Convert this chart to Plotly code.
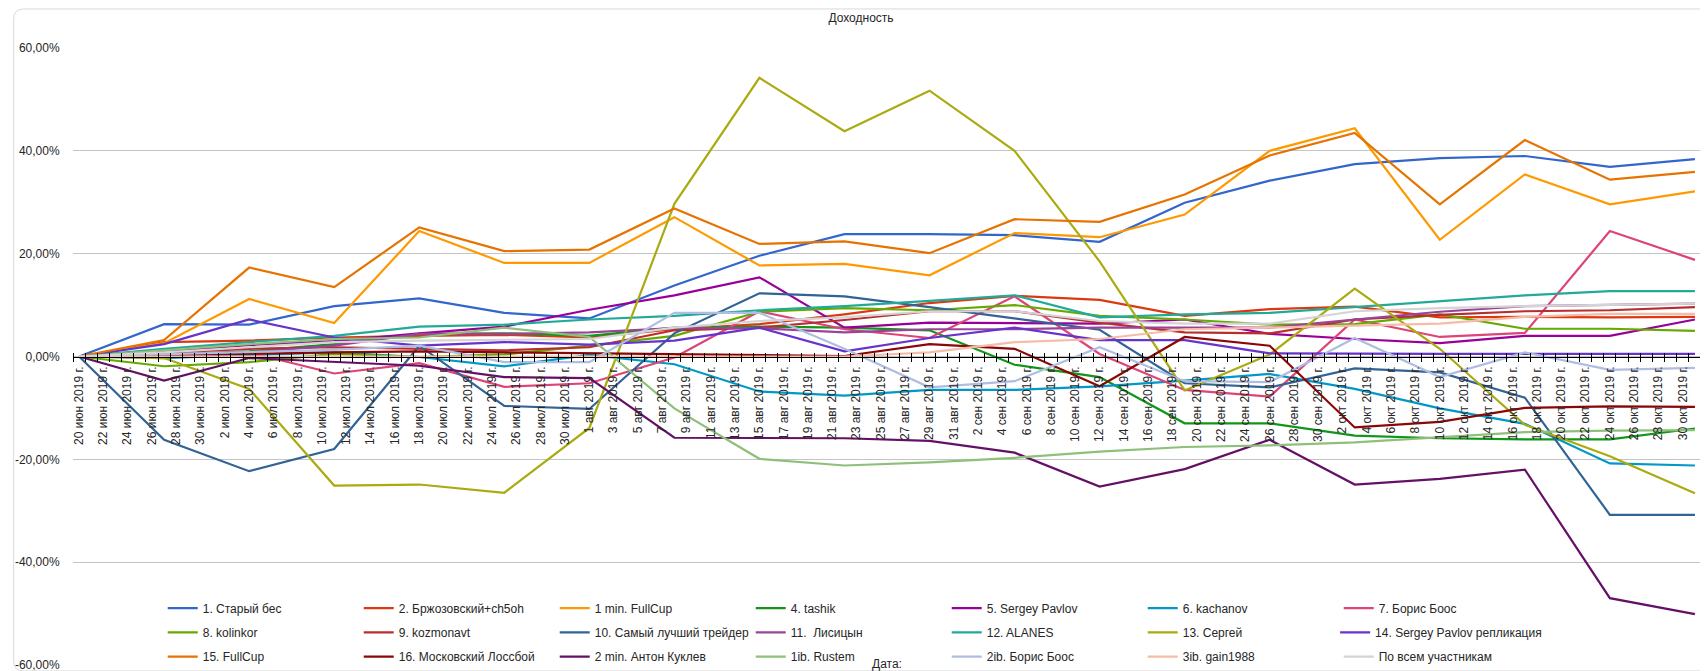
import plotly.graph_objects as go
from datetime import datetime, timedelta

# ---------------- data ----------------
dates = ["2019-06-20", "2019-06-27", "2019-07-04", "2019-07-11", "2019-07-18",
         "2019-07-25", "2019-08-01", "2019-08-08", "2019-08-15", "2019-08-22",
         "2019-08-29", "2019-09-05", "2019-09-12", "2019-09-19", "2019-09-26",
         "2019-10-03", "2019-10-10", "2019-10-17", "2019-10-24", "2019-10-31"]

series_names = ["1. Старый бес", "2. Бржозовский+ch5oh", "1 min. FullCup", "4. tashik",
                "5. Sergey Pavlov", "6. kachanov", "7. Борис Боос",
                "8. kolinkor", "9. kozmonavt", "10. Самый лучший трейдер", "11.\u00a0 Лисицын",
                "12. ALANES", "13. Сергей", "14. Sergey Pavlov репликация",
                "15. FullCup", "16. Московский Лоссбой", "2 min. Антон Куклев", "1ib. Rustem",
                "2ib. Борис Боос", "3ib. gain1988", "По всем участникам"]

series_colors = ["#3366cc", "#dc3912", "#ff9900", "#109618", "#990099", "#0099c6", "#dd4477",
                 "#66aa00", "#b82e2e", "#316395", "#994499", "#22aa99", "#aaaa11", "#6633cc",
                 "#e67300", "#8b0707", "#651067", "#8fc07a", "#b0bde2", "#f5bca8", "#d4d4d4"]

# values in percent
staryi_bes = [0, 6.3, 6.2, 9.8, 11.3, 8.5, 7.4, 13.8, 19.6, 23.8, 23.8, 23.6, 22.3, 29.9, 34.2, 37.4, 38.6, 39.0, 36.9, 38.4]
brzhozovsky = [0, 2.8, 3.1, 3.7, 4.0, 4.2, 3.7, 5.3, 6.3, 8.2, 10.4, 11.8, 11.0, 7.9, 9.2, 9.7, 7.6, 7.7, 7.6, 7.7]
min1_fullcup = [0, 2.6, 11.2, 6.5, 24.4, 18.2, 18.2, 27.1, 17.7, 18.0, 15.8, 24.0, 23.2, 27.6, 40.0, 44.4, 22.7, 35.4, 29.6, 32.1]
tashik = [0, 0.3, 1.0, 2.4, 4.4, 4.5, 4.0, 5.6, 5.8, 5.6, 5.1, -1.6, -4.0, -13.0, -13.0, -15.4, -15.9, -16.1, -16.1, -14.0]
sergey_pavlov = [0, 1.0, 2.2, 3.0, 4.5, 5.8, 9.1, 11.9, 15.4, 5.6, 6.6, 6.5, 6.4, 7.2, 4.4, 3.4, 2.6, 4.0, 4.0, 7.2]
kachanov = [0, -0.3, 0.3, 0.8, -0.1, -1.9, 0.3, -1.5, -6.8, -7.6, -6.5, -6.5, -5.8, -4.7, -3.4, -6.3, -10.1, -13.1, -20.8, -21.2]
boris_boos = [0, 0.5, 0.8, -3.3, -1.3, -5.9, -5.2, -0.2, 8.8, 5.3, 3.6, 11.7, 0.5, -6.5, -7.8, 7.2, 3.8, 4.6, 24.4, 18.8]
kolinkor = [0, -1.9, -1.1, 0.5, -0.1, 0.4, 2.1, 4.0, 8.7, 9.4, 9.0, 10.0, 7.9, 7.2, 6.2, 6.3, 8.2, 5.4, 5.4, 5.0]
kozmonavt = [0, 0.8, 1.5, 1.8, 1.5, 1.2, 1.8, 5.1, 5.6, 7.1, 8.8, 8.8, 6.6, 4.7, 4.5, 7.2, 8.1, 8.8, 9.0, 9.6]
best_trader = [0, -16.2, -22.3, -18.0, 2.1, -9.6, -10.2, 4.5, 12.3, 11.7, 9.6, 7.4, 5.2, -5.2, -6.0, -2.3, -3.1, -8.0, -30.8, -30.8]
lisitsyn = [0, 0.4, 0.8, 2.1, 4.4, 4.4, 4.7, 5.5, 5.5, 4.7, 5.3, 5.3, 5.6, 5.6, 5.6, 7.2, 8.7, 9.8, 10.0, 10.3]
alanes = [0, 1.5, 2.8, 4.0, 5.8, 6.2, 7.2, 7.9, 9.0, 9.8, 10.8, 11.9, 7.6, 8.2, 8.5, 9.6, 10.8, 11.9, 12.7, 12.7]
sergei = [0, -0.3, -6.3, -25.1, -24.9, -26.5, -13.9, 29.7, 54.2, 43.8, 51.7, 40.0, 18.5, -6.6, 0.4, 13.2, 1.5, -13.3, -19.4, -26.6]
pavlov_repl = [0, 2.4, 7.2, 3.7, 2.1, 2.8, 2.3, 3.1, 5.6, 1.0, 3.6, 5.6, 3.2, 3.2, 0.6, 0.5, 0.5, 0.5, 0.5, 0.5]
fullcup15 = [0, 3.2, 17.3, 13.5, 25.1, 20.5, 20.8, 28.8, 21.9, 22.4, 20.1, 26.7, 26.2, 31.5, 39.1, 43.5, 29.6, 42.1, 34.4, 35.9]
moscow_lossboy = [0, 0.3, 0.5, 0.8, 1.0, 0.8, 0.6, 0.5, 0.3, 0.1, 2.4, 1.5, -5.8, 3.8, 2.1, -13.8, -12.7, -10.0, -9.7, -9.8]
kuklev = [0, -4.7, -0.3, -1.1, -1.8, -4.0, -4.2, -15.8, -15.9, -15.9, -16.4, -18.7, -25.3, -21.9, -16.2, -24.9, -23.8, -22.0, -47.0, -50.1]
rustem = [0, 1.2, 2.4, 3.4, 3.7, 5.6, 3.8, -10.1, -19.9, -21.2, -20.6, -19.7, -18.5, -17.6, -17.3, -16.7, -15.7, -14.7, -14.4, -14.3]
boris_boos_2ib = [0, 0.4, 0.8, 1.3, 2.1, -1.1, -1.1, 8.5, 8.5, 1.5, -6.0, -4.8, 1.8, -4.8, -5.0, 3.6, -4.0, 0.8, -2.6, -2.2]
gain1988 = [0, 0, 0, 0, 0, 0, 0, 0, 0, 0, 0.8, 2.8, 3.4, 5.3, 5.6, 6.0, 6.4, 7.7, 8.3, 8.3]
all_participants = [0, 0.8, 1.8, 2.8, 3.1, 3.2, 3.4, 5.6, 6.9, 7.6, 8.8, 8.8, 6.9, 6.4, 6.4, 8.8, 9.4, 9.8, 10.0, 10.3]

series_values = [staryi_bes, brzhozovsky, min1_fullcup, tashik, sergey_pavlov, kachanov, boris_boos,
                 kolinkor, kozmonavt, best_trader, lisitsyn, alanes, sergei, pavlov_repl,
                 fullcup15, moscow_lossboy, kuklev, rustem, boris_boos_2ib, gain1988, all_participants]

y_tick_vals = [-60, -40, -20, 0, 20, 40, 60]
y_tick_text = ["-60,00%", "-40,00%", "-20,00%", "0,00%", "20,00%", "40,00%", "60,00%"]
month_abbr = {6: "июн", 7: "июл", 8: "авг", 9: "сен", 10: "окт", 11: "ноя"}

# ---------------- layout geometry ----------------
W, H = 1708, 671
ML, MR, MT, MB = 60, 15, 40, 7
PW, PH = W - ML - MR, H - MT - MB

def px_x(px):
    return (px - ML) / PW

def px_y(py):
    return (H - MB - py) / PH

# x axis: ticks at half-day boundaries, labels for every second date
first = datetime(2019, 6, 20)
x_start = first - timedelta(hours=12)
x_end = datetime(2019, 10, 31) + timedelta(hours=12)
tickvals, ticktext, minorvals = [], [], []
k = 0
t = x_start
while t <= x_end:
    tickvals.append(t.strftime("%Y-%m-%d %H:%M:%S"))
    minorvals.append((t + timedelta(minutes=1)).strftime("%Y-%m-%d %H:%M:%S"))
    d = first + timedelta(days=k)
    if k % 2 == 0 and d <= datetime(2019, 10, 30):
        ticktext.append(f"{d.day} {month_abbr[d.month]} 2019 г.")
    else:
        ticktext.append("")
    k += 1
    t += timedelta(days=1)

FONT = "Liberation Sans, Arial, sans-serif"
TXT = "#262626"
COL_W = 196          # legend column spacing in px
LEG_X0 = 150         # left of first legend column in px
ROW_Y = [606.5, 631, 655.5]

fig = go.Figure()
for i, (name, vals, col) in enumerate(zip(series_names, series_values, series_colors)):
    row, column = divmod(i, 7)
    if row == 1 and column == 6:
        leg = "legend4"   # long entry gets its own legend so it is not clipped
    else:
        leg = ["legend", "legend2", "legend3"][row]
    fig.add_trace(go.Scatter(x=dates, y=vals, name=name, mode="lines",
                             line=dict(color=col, width=2.2),
                             legend=leg))

leg_common = dict(orientation="h", xref="paper", yref="paper", xanchor="left", yanchor="middle",
                  entrywidth=COL_W - 45, entrywidthmode="pixels", bgcolor="rgba(0,0,0,0)",
                  font=dict(family=FONT, size=12, color=TXT), traceorder="normal",
                  itemwidth=30)
leg_x = px_x(LEG_X0)

# rounded border path (figure edge)
r = 10
x0, x1, y0, y1 = 0.5, 1705, 0.5, 670
pts = (f"M {px_x(x0 + r)} {px_y(y0)} L {px_x(x1 - r)} {px_y(y0)} "
       f"Q {px_x(x1)} {px_y(y0)} {px_x(x1)} {px_y(y0 + r)} "
       f"L {px_x(x1)} {px_y(y1 - r)} Q {px_x(x1)} {px_y(y1)} {px_x(x1 - r)} {px_y(y1)} "
       f"L {px_x(x0 + r)} {px_y(y1)} Q {px_x(x0)} {px_y(y1)} {px_x(x0)} {px_y(y1 - r)} "
       f"L {px_x(x0)} {px_y(y0 + r)} Q {px_x(x0)} {px_y(y0)} {px_x(x0 + r)} {px_y(y0)} Z")

fig.update_layout(
    width=W, height=H,
    margin=dict(l=ML, r=MR, t=MT, b=MB),
    paper_bgcolor="white", plot_bgcolor="white",
    font=dict(family=FONT, size=12, color=TXT),
    title=dict(text="Доходность", x=853 / W, xanchor="center", xref="container",
               y=1 - 10 / H, yanchor="middle", yref="container",
               font=dict(family=FONT, size=12, color=TXT)),
    xaxis=dict(type="date", range=[x_start, x_end], anchor="free", position=0.5,
               showline=True, linecolor="black", linewidth=1,
               showgrid=False, zeroline=False,
               tickmode="array", tickvals=tickvals, ticktext=ticktext,
               ticks="outside", ticklen=4, tickcolor="black", tickwidth=1,
               tickangle=-90, ticklabelshift=6,
               tickfont=dict(family=FONT, size=12, color=TXT),
               minor=dict(tickmode="array", tickvals=minorvals, ticks="inside",
                          ticklen=4, tickcolor="black", tickwidth=1, showgrid=False)),
    yaxis=dict(range=[-60, 60], tickmode="array", tickvals=y_tick_vals, ticktext=y_tick_text,
               showgrid=True, gridcolor="#c4c4c4", gridwidth=1, zeroline=False,
               showline=False, ticks="outside", ticklen=10, tickcolor="rgba(0,0,0,0)",
               tickfont=dict(family=FONT, size=12, color=TXT)),
    legend=dict(leg_common, x=leg_x, y=px_y(ROW_Y[0])),
    legend2=dict(leg_common, x=leg_x, y=px_y(ROW_Y[1])),
    legend3=dict(leg_common, x=leg_x, y=px_y(ROW_Y[2])),
    legend4=dict(leg_common, x=px_x(LEG_X0 + 6 * COL_W), y=px_y(ROW_Y[1]), entrywidth=250),
    annotations=[dict(text="Дата:", x=px_x(876), y=px_y(663), xref="paper", yref="paper",
                      showarrow=False, xanchor="center", yanchor="middle",
                      font=dict(family=FONT, size=12, color=TXT))],
    shapes=[dict(type="path", path=pts, xref="paper", yref="paper",
                 line=dict(color="#d9d9d9", width=1), layer="above")],
    showlegend=True,
)

fig.write_html("out.html")
